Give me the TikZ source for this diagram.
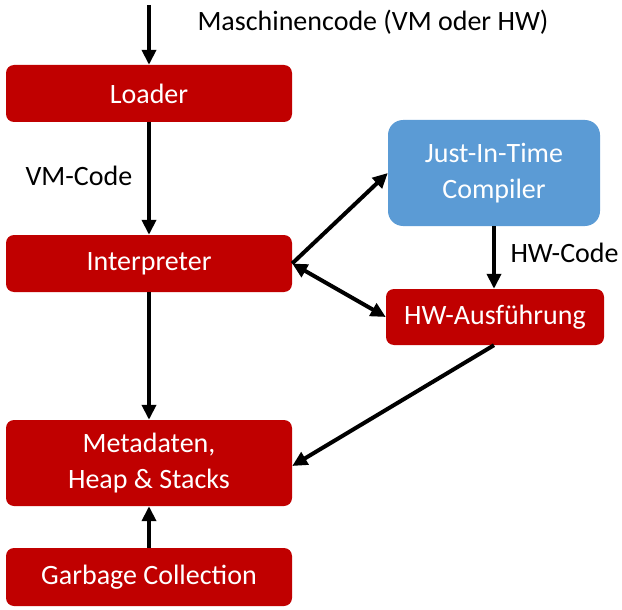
\documentclass[tikz,border=0pt]{standalone}
\usepackage{fontspec}
\setmainfont{Carlito}
\usetikzlibrary{arrows.meta, positioning}
\definecolor{vmred}{HTML}{C00000}
\definecolor{vmblue}{HTML}{5B9BD5}

\begin{document}
\begin{tikzpicture}[
    x=1pt, y=-1pt,
    >={Triangle[length=15pt, width=14pt]},
    box/.style={rounded corners=8pt, minimum width=286pt, minimum height=57pt, fill=#1, text=white, align=center, inner sep=0pt, font=\fontsize{28}{36}\selectfont},
    flow/.style={line width=4pt},
    lbl/.style={font=\fontsize{28}{32}\selectfont, anchor=west},
]
\useasboundingbox (0,0) rectangle (622,610);

% Main column
\coordinate (in) at (149,5);
\node[box=vmred] (loader) at (149,93.5) {Loader};
\node[box=vmred] (interp) at (149,263.5) {Interpreter};
\node[box=vmred, minimum height=86pt] (meta) at (149,463) {Metadaten,\\Heap \& Stacks};
\node[box=vmred, minimum height=58pt] (gc) at (149,577) {Garbage Collection};

% JIT side
\node[box=vmblue, minimum width=212pt, minimum height=106pt, rounded corners=15pt] (jit) at (494,173) {Just-In-Time\\Compiler};
\node[box=vmred, minimum width=218pt, minimum height=56pt] (hw) at (495,317) {HW-Ausführung};

% Labels
\node[lbl] (mc) at (194,22) {Maschinencode (VM oder HW)};
\node[lbl] (vmc) at (22,176) {VM-Code};
\node[lbl] (hwc) at (507,253) {HW-Code};

% Arrows
\draw[flow, ->] (in) -- (loader.north);
\draw[flow, ->] (loader.south) -- (interp.north);
\draw[flow, ->] (interp.south) -- (meta.north);
\draw[flow, ->] (gc.north) -- (meta.south);
\draw[flow, ->] (interp.east) -- (jit.west);
\draw[flow, <->] (interp.east) -- (hw.west);
\draw[flow, ->] (jit.south) -- ([xshift=-1pt]hw.north);
\draw[flow, ->] ([xshift=-1pt]hw.south) -- ([yshift=-3pt]meta.east);

\end{tikzpicture}
\end{document}
